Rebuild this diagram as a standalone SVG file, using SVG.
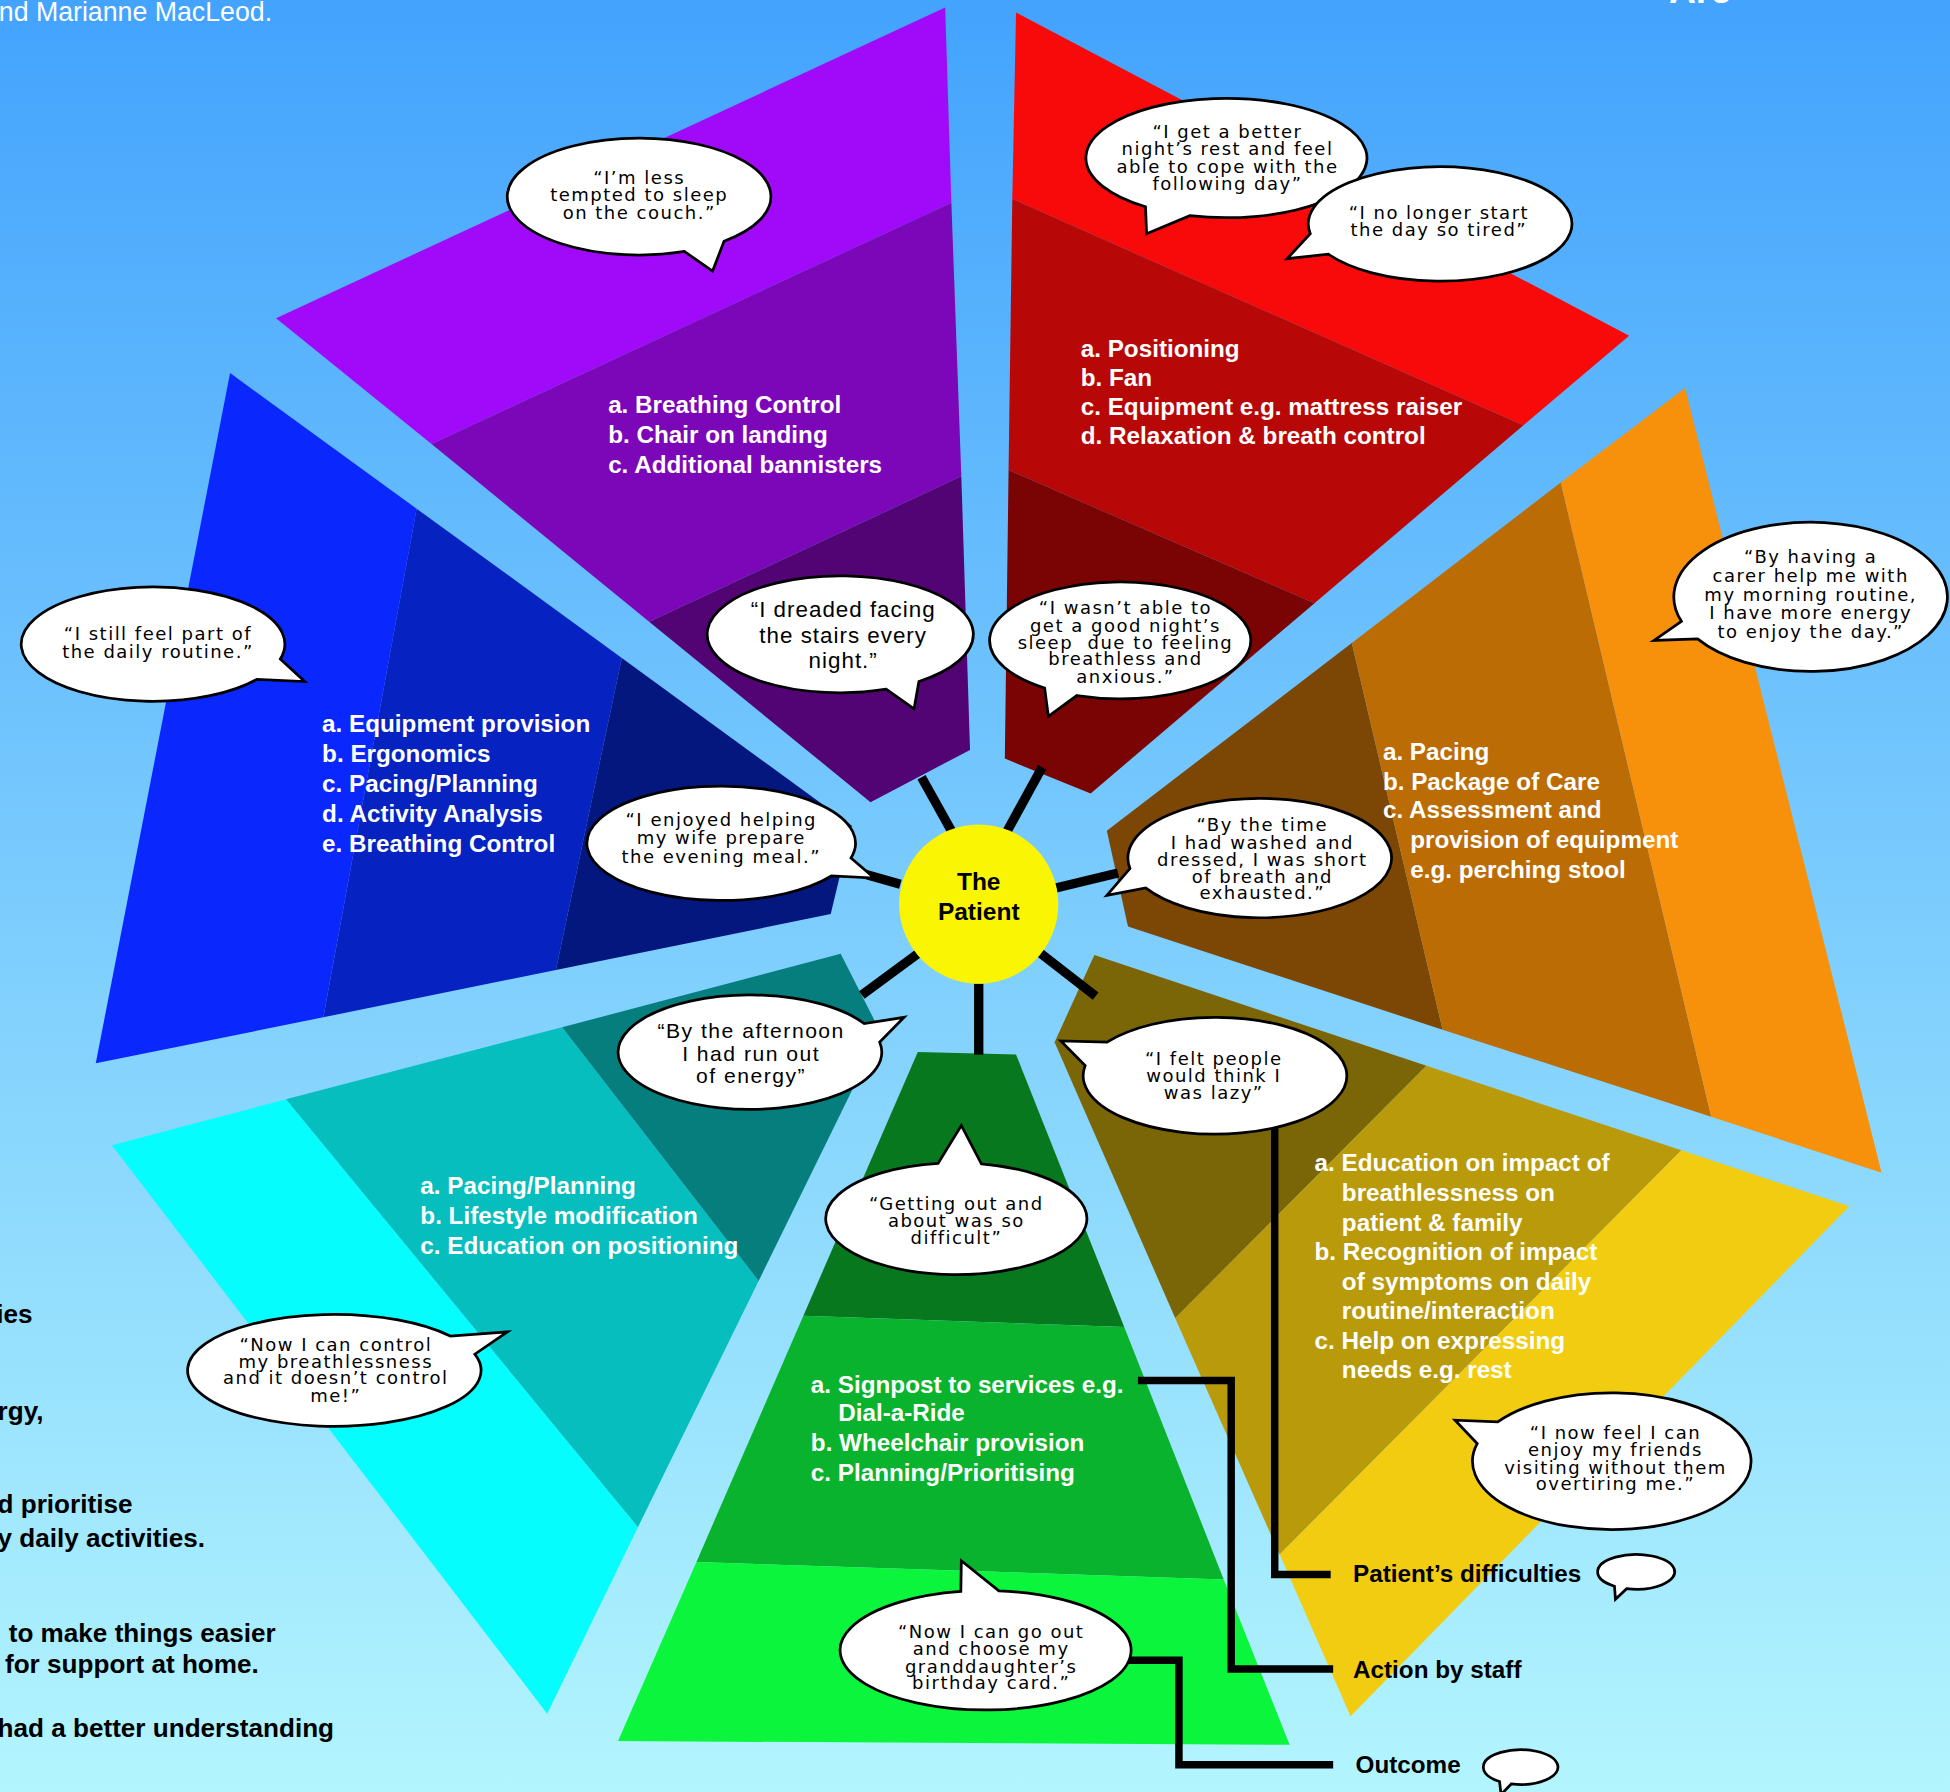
<svg xmlns="http://www.w3.org/2000/svg" width="1950" height="1792" viewBox="0 0 1950 1792">
<defs>
<linearGradient id="bg" x1="0" y1="0" x2="0" y2="1">
<stop offset="0" stop-color="#43a3fd"/>
<stop offset="1" stop-color="#b3f5fe"/>
</linearGradient>
<style>
.lst{font-family:"Liberation Sans",Arial,sans-serif;font-weight:bold;font-size:19.5px;fill:#fff}
.q{font-family:"DejaVu Sans",Verdana,sans-serif;font-size:14.5px;letter-spacing:1.2px;fill:#000;text-anchor:middle}
.qa{font-family:"Liberation Sans",Arial,sans-serif;fill:#000;text-anchor:middle}
.bub{fill:#fff;stroke:#000;stroke-width:2.2;stroke-linejoin:miter}
.blk{font-family:"Liberation Sans",Arial,sans-serif;font-weight:bold;fill:#000}
.wht{font-family:"Liberation Sans",Arial,sans-serif;fill:#fff}
.spoke{stroke:#000;stroke-width:7.5;fill:none}
.conn{stroke:#000;stroke-width:6;fill:none;stroke-linejoin:miter}
</style>
</defs>
<rect width="1950" height="1792" fill="url(#bg)"/>
<g transform="scale(1.24362)">

<g id="page-text">
<text class="wht" x="-1" y="17" font-size="21.5">nd Marianne MacLeod.</text>
<text class="wht" x="1342" y="2" font-size="30" font-weight="bold">Are</text>
<text class="blk" font-size="21">
<tspan x="-3" y="1064">ies</tspan>
<tspan x="-2" y="1142">rgy,</tspan>
<tspan x="-2" y="1217">d prioritise</tspan>
<tspan x="-2" y="1244">y daily activities.</tspan>
<tspan x="7" y="1320">to make things easier</tspan>
<tspan x="4" y="1345">for support at home.</tspan>
<tspan x="-2" y="1397">had a better understanding</tspan>
</text>
</g>

<g id="seg-purple">
<polygon points="760,6 222,256 347,357 765,163" fill="#a10af8"/>
<polygon points="765,163 347,357 522,500 773,383" fill="#7c07b8"/>
<polygon points="773,383 522,500 700,645 780,603" fill="#520474"/>
<text class="lst"><tspan x="489" y="332">a. Breathing Control</tspan><tspan x="489" y="356">b. Chair on landing</tspan><tspan x="489" y="380">c. Additional bannisters</tspan></text>
</g>

<g id="seg-red">
<polygon points="817,10 1310,270 1225,342 814,160" fill="#f80a0a"/>
<polygon points="814,160 1225,342 1057,485 811,378" fill="#b80707"/>
<polygon points="811,378 1057,485 877,638 808,610" fill="#7a0303"/>
<text class="lst"><tspan x="869" y="287">a. Positioning</tspan><tspan x="869" y="310">b. Fan</tspan><tspan x="869" y="334">c. Equipment e.g. mattress raiser</tspan><tspan x="869" y="357">d. Relaxation &amp; breath control</tspan></text>
</g>

<g id="seg-orange">
<polygon points="890,668 1087,517 1160,828 907,745" fill="#7c4704"/>
<polygon points="1087,517 1255,388 1376,898 1160,828" fill="#bb6c05"/>
<polygon points="1255,388 1355,312 1513,943 1376,898" fill="#f7900b"/>
<text class="lst"><tspan x="1112" y="611">a. Pacing</tspan><tspan x="1112" y="635">b. Package of Care</tspan><tspan x="1112" y="658">c. Assessment and</tspan><tspan x="1134" y="682">provision of equipment</tspan><tspan x="1134" y="706">e.g. perching stool</tspan></text>
</g>

<g id="seg-gold">
<polygon points="880,768 1147,857 945,1060 848,838" fill="#7b6607"/>
<polygon points="1147,857 1352,925 1029,1250 945,1060" fill="#b99a0b"/>
<polygon points="1352,925 1487,970 1086,1380 1029,1250" fill="#f2cc10"/>
<text class="lst"><tspan x="1057" y="942">a. Education on impact of</tspan><tspan x="1079" y="966">breathlessness on</tspan><tspan x="1079" y="990">patient &amp; family</tspan><tspan x="1057" y="1013">b. Recognition of impact</tspan><tspan x="1079" y="1037">of symptoms on daily</tspan><tspan x="1079" y="1061">routine/interaction</tspan><tspan x="1057" y="1085">c. Help on expressing</tspan><tspan x="1079" y="1108">needs e.g. rest</tspan></text>
</g>

<g id="seg-green">
<polygon points="738,846 817,848 904,1067 646,1058" fill="#08781e"/>
<polygon points="646,1058 904,1067 984,1270 560,1256" fill="#0ab32d"/>
<polygon points="560,1256 984,1270 1037,1403 497,1400" fill="#0af53b"/>
<text class="lst"><tspan x="652" y="1120">a. Signpost to services e.g.</tspan><tspan x="674" y="1143">Dial-a-Ride</tspan><tspan x="652" y="1167">b. Wheelchair provision</tspan><tspan x="652" y="1191">c. Planning/Prioritising</tspan></text>
</g>

<g id="seg-cyan">
<polygon points="90,921 230,884 513,1228 440,1378" fill="#05fdfd"/>
<polygon points="230,884 452,826 610,1030 513,1228" fill="#06bebe"/>
<polygon points="452,826 676,767 708,830 610,1030" fill="#067e7e"/>
<text class="lst"><tspan x="338" y="960">a. Pacing/Planning</tspan><tspan x="338" y="984">b. Lifestyle modification</tspan><tspan x="338" y="1008">c. Education on positioning</tspan></text>
</g>

<g id="seg-blue">
<polygon points="185,300 335,409 260,818 77,855" fill="#0a28fe"/>
<polygon points="335,409 500,529 447,780 260,818" fill="#0622c1"/>
<polygon points="500,529 685,664 668,735 447,780" fill="#03177f"/>
<text class="lst"><tspan x="259" y="589">a. Equipment provision</tspan><tspan x="259" y="613">b. Ergonomics</tspan><tspan x="259" y="637">c. Pacing/Planning</tspan><tspan x="259" y="661">d. Activity Analysis</tspan><tspan x="259" y="685">e. Breathing Control</tspan></text>
</g>

<g id="connectors">
<line class="spoke" x1="765" y1="668" x2="741" y2="625"/>
<line class="spoke" x1="810" y1="668" x2="838" y2="617"/>
<line class="spoke" x1="849" y1="714" x2="899" y2="702"/>
<line class="spoke" x1="836" y1="766" x2="881" y2="801"/>
<line class="spoke" x1="787" y1="791" x2="787" y2="848"/>
<line class="spoke" x1="738" y1="767" x2="693" y2="800"/>
<line class="spoke" x1="724" y1="711" x2="685" y2="700"/>
<path class="conn" d="M1025,905 V1266 H1070"/>
<path class="conn" d="M915,1110 H990 V1342 H1072"/>
<path class="conn" d="M905,1335 H948 V1419 H1072"/>
</g>

<g id="patient">
<circle cx="787" cy="727" r="64" fill="#f9f503"/>
<text class="blk" font-size="19.7" text-anchor="middle"><tspan x="787" y="716">The</tspan><tspan x="787" y="740">Patient</tspan></text>
</g>

<g id="q-couch">
<path class="bub" d="M550.3,202.2 A106,47 0 1 1 582.2,194 L573,218 Z"/>
<text class="q"><tspan x="514" y="148">“I’m less</tspan><tspan x="514" y="162">tempted to sleep</tspan><tspan x="514" y="176">on the couch.”</tspan></text>
</g>

<g id="q-better-night">
<path class="bub" d="M921.1,166.3 A113,48 0 1 1 956.7,173.4 L922,188 Z"/>
<text class="q"><tspan x="987" y="111">“I get a better</tspan><tspan x="987" y="125">night’s rest and feel</tspan><tspan x="987" y="139">able to cope with the</tspan><tspan x="987" y="153">following day”</tspan></text>
</g>

<g id="q-tired">
<path class="bub" d="M1053.6,188 A106,46 0 1 1 1068.1,204.4 L1035,208 Z"/>
<text class="q"><tspan x="1157" y="176">“I no longer start</tspan><tspan x="1157" y="190">the day so tired”</tspan></text>
</g>

<g id="q-routine">
<path class="bub" d="M206.5,546.3 A106,46 0 1 1 225.4,529.9 L245,548 Z"/>
<text class="q" font-size="13.6" letter-spacing="1.3"><tspan x="127" y="515">“I still feel part of</tspan><tspan x="127" y="529">the daily routine.”</tspan></text>
</g>

<g id="q-stairs">
<path class="bub" d="M712.6,554.2 A107,47 0 1 1 738.9,548 L735,570 Z"/>
<text class="qa" font-size="18" letter-spacing="0.8"><tspan x="678" y="496">“I dreaded facing</tspan><tspan x="678" y="517">the stairs every</tspan><tspan x="678" y="537">night.”</tspan></text>
</g>

<g id="q-sleep">
<path class="bub" d="M840,553.3 A105,47 0 1 1 865.9,559.3 L843,576 Z"/>
<text class="q" font-size="13.6" letter-spacing="1.2" style="white-space:pre"><tspan x="905" y="494">“I wasn’t able to</tspan><tspan x="905" y="508">get a good night’s</tspan><tspan x="905" y="522">sleep  due to feeling</tspan><tspan x="905" y="535">breathless and</tspan><tspan x="905" y="549">anxious.”</tspan></text>
</g>

<g id="q-carer">
<path class="bub" d="M1352,499.6 A110,60 0 1 1 1365,513.7 L1330,515 Z"/>
<text class="q"><tspan x="1456" y="453">“By having a</tspan><tspan x="1456" y="468">carer help me with</tspan><tspan x="1456" y="483">my morning routine,</tspan><tspan x="1456" y="498">I have more energy</tspan><tspan x="1456" y="513">to enjoy the day.”</tspan></text>
</g>

<g id="q-meal">
<path class="bub" d="M668.5,704.4 A108,46 0 1 1 684.3,689.9 L703,706 Z"/>
<text class="q"><tspan x="580" y="664">“I enjoyed helping</tspan><tspan x="580" y="679">my wife prepare</tspan><tspan x="580" y="694">the evening meal.”</tspan></text>
</g>

<g id="q-washed">
<path class="bub" d="M908.6,698.4 A106,48 0 1 1 921.2,714 L890,720 Z"/>
<text class="q"><tspan x="1015" y="668">“By the time</tspan><tspan x="1015" y="683">I had washed and</tspan><tspan x="1015" y="696">dressed, I was short</tspan><tspan x="1015" y="710">of breath and</tspan><tspan x="1015" y="723">exhausted.”</tspan></text>
</g>

<g id="q-afternoon">
<path class="bub" d="M707.4,838 A106,46 0 1 1 694.8,823 L727,818 Z"/>
<text class="qa" font-size="17" letter-spacing="1.2"><tspan x="604" y="835">“By the afternoon</tspan><tspan x="604" y="853">I had run out</tspan><tspan x="604" y="871">of energy”</tspan></text>
</g>

<g id="q-lazy">
<path class="bub" d="M890.2,838 A106,47 0 1 1 872.6,856.8 L853,837 Z"/>
<text class="q"><tspan x="976" y="856">“I felt people</tspan><tspan x="976" y="870">would think I</tspan><tspan x="976" y="884">was lazy”</tspan></text>
</g>

<g id="q-getting-out">
<path class="bub" d="M789.1,935.8 A105,45 0 1 1 754.4,935.4 L773,905 Z"/>
<text class="q"><tspan x="769" y="973">“Getting out and</tspan><tspan x="769" y="987">about was so</tspan><tspan x="769" y="1000">difficult”</tspan></text>
</g>

<g id="q-control">
<path class="bub" d="M381.8,1088.9 A118,45 0 1 1 362,1074.3 L408,1071 Z"/>
<text class="q"><tspan x="270" y="1086">“Now I can control</tspan><tspan x="270" y="1100">my breathlessness</tspan><tspan x="270" y="1113">and it doesn’t control</tspan><tspan x="270" y="1127">me!”</tspan></text>
</g>

<g id="q-friends">
<path class="bub" d="M1204.3,1143.4 A112,55 0 1 1 1187.8,1160.8 L1170,1142 Z"/>
<text class="q"><tspan x="1299" y="1157">“I now feel I can</tspan><tspan x="1299" y="1171">enjoy my friends</tspan><tspan x="1299" y="1185">visiting without them</tspan><tspan x="1299" y="1198">overtiring me.”</tspan></text>
</g>

<g id="q-card">
<path class="bub" d="M803.2,1279.2 A117,48 0 1 1 772.6,1279.7 L773,1255 Z"/>
<text class="q" font-size="15" letter-spacing="1.3"><tspan x="797" y="1317">“Now I can go out</tspan><tspan x="797" y="1331">and choose my</tspan><tspan x="797" y="1345">granddaughter’s</tspan><tspan x="797" y="1358">birthday card.”</tspan></text>
</g>

<g id="legend">
<text class="blk" font-size="19.5"><tspan x="1088" y="1272">Patient’s difficulties</tspan><tspan x="1088" y="1349">Action by staff</tspan><tspan x="1090" y="1426">Outcome</tspan></text>
<path class="bub" d="M1298.2,1275.5 A31,14 0 1 1 1308,1277.5 L1299,1286 Z"/>
<path class="bub" d="M1205.8,1432.5 A30,14 0 1 1 1215.2,1434.5 L1207,1443 Z"/>
</g>

</g>
</svg>
